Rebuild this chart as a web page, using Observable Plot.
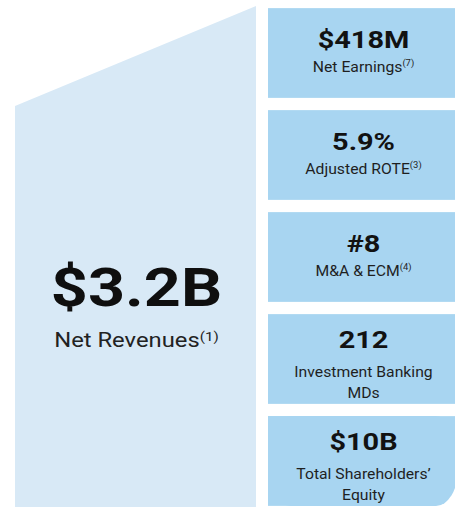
<!DOCTYPE html>
<html><head><meta charset="utf-8">
<script src="https://cdn.jsdelivr.net/npm/d3@7"></script>
<script src="https://cdn.jsdelivr.net/npm/@observablehq/plot@0.6"></script>
<style>html,body{margin:0;padding:0;background:#fff} svg{display:block}</style>
</head><body><div id="chart"></div>
<script>
// ---- data ----
const headlineValue = "$3.2B";
const headlineLabel = "Net Revenues";
const headlineNote = "(1)";
const metricValues = ["$418M", "5.9%", "#8", "212", "$10B"];
const metricLabels = ["Net Earnings", "Adjusted ROTE", "M&A & ECM", "Investment Banking\nMDs", "Total Shareholders’\nEquity"];
const metricNotes = ["(7)", "(3)", "(4)", "", ""];

// ---- layout ----
const pad = 0.06;
const boxFill = "#a8d5f1";
const panelFill = "#d8e9f6";
const boxX1 = 268, boxX2 = 458, boxCx = (boxX1 + boxX2) / 2;
const panelShape = [{x: 15, topEdge: 1.02}, {x: 256, topEdge: 0.04}];

const metrics = metricValues.map((value, i) => ({
  i, value, label: metricLabels[i], note: metricNotes[i],
  lines: metricLabels[i].split("\n").length,
  last: i === metricValues.length - 1
}));
const single = metrics.filter(d => d.lines === 1);
const double = metrics.filter(d => d.lines > 1);
const plain = metrics.filter(d => !d.last);
const lastBox = metrics.filter(d => d.last);

const boxTop = d => d.i + pad, boxBottom = d => d.i + 1 - pad, boxMid = d => d.i + 0.5;

const chart = Plot.plot({
  width: 455, height: 507,
  marginTop: 0, marginRight: 0, marginBottom: 0, marginLeft: 0,
  x: {domain: [0, 455], range: [0, 455], axis: null},
  y: {domain: [0, 5], range: [2, 512], axis: null},
  style: {background: "#fff", fontFamily: "Roboto, sans-serif", overflow: "hidden"},
  marks: [
    Plot.areaY(panelShape, {x: "x", y1: 5, y2: "topEdge", fill: panelFill}),
    Plot.rect(plain, {x1: boxX1, x2: boxX2, y1: boxTop, y2: boxBottom, fill: boxFill}),
    Plot.rect(lastBox, {x1: boxX1, x2: boxX2, y1: boxTop, y2: boxBottom, rx: 22, ry: 36, fill: boxFill}),
    Plot.rect(lastBox, {x1: boxX1, x2: boxX2, y1: boxTop, y2: d => boxBottom(d) - 0.45, fill: boxFill}),
    Plot.rect(lastBox, {x1: boxX1, x2: boxX2 - 40, y1: boxTop, y2: boxBottom, fill: boxFill}),
    // headline
    Plot.text([headlineValue], {x: 136, y: 2.808, text: d => d, fontSize: 53, fontWeight: 700, fill: "#0f0f0f", ariaDescription: "headline-value"}),
    Plot.text([headlineLabel], {x: 136, y: 3.32, text: d => d, fontSize: 19.5, fill: "#222", ariaDescription: "headline-label"}),
    // metric boxes
    Plot.text(single, {x: boxCx, y: boxMid, text: "value", dy: -13, fontSize: 24.5, fontWeight: 700, fill: "#121212", ariaDescription: "metric-value"}),
    Plot.text(single, {x: boxCx, y: boxMid, text: "label", dy: 13.5, fontSize: 15, fill: "#1f1f1f", ariaDescription: "metric-label"}),
    Plot.text(double, {x: boxCx, y: boxMid, text: "value", dy: -19, fontSize: 24.5, fontWeight: 700, fill: "#121212", ariaDescription: "metric-value"}),
    Plot.text(double, {x: boxCx, y: boxMid, text: "label", lineAnchor: "top", dy: 2.5, lineHeight: 1.4, fontSize: 15, fill: "#1f1f1f", ariaDescription: "metric-label"})
  ]
});

// superscript footnote markers
function addNote(textEl, note, size, shift) {
  if (!note) return;
  const t = document.createElementNS("http://www.w3.org/2000/svg", "tspan");
  t.setAttribute("font-size", size);
  t.setAttribute("dy", -shift);
  t.textContent = note;
  textEl.appendChild(t);
}
chart.querySelectorAll('g[aria-description="metric-label"] text').forEach(el => {
  const m = metrics.find(d => d.label === el.textContent && d.lines === 1);
  if (m) addNote(el, m.note, 9, 5.5);
});
chart.querySelectorAll('g[aria-description="headline-label"] text').forEach(el => addNote(el, headlineNote, 12.5, 6.5));

// horizontal stretch of text to match reference proportions
function stretch(label, s) {
  chart.querySelectorAll(`g[aria-description="${label}"] text`).forEach(el => {
    let tr = el.getAttribute("transform");
    if (!tr) {
      const x = el.getAttribute("x") || 0, y = el.getAttribute("y") || 0;
      el.removeAttribute("x"); el.removeAttribute("y");
      tr = `translate(${x},${y})`;
    }
    el.setAttribute("transform", tr + ` scale(${s},1)`);
  });
}
stretch("headline-value", 1.22);
stretch("headline-label", 1.22);
stretch("metric-value", 1.18);
stretch("metric-label", 1.05);

document.getElementById("chart").appendChild(chart);
</script>
</body></html>
